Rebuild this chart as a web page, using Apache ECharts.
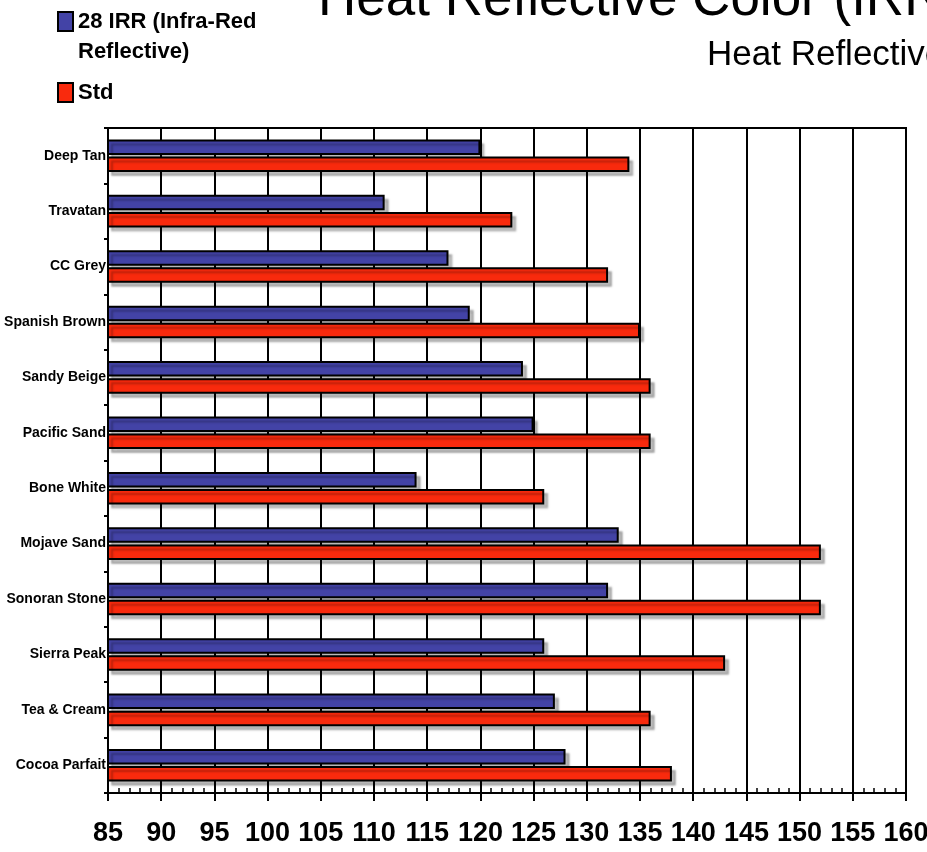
<!DOCTYPE html>
<html><head><meta charset="utf-8">
<script src="https://cdn.jsdelivr.net/npm/echarts@6/dist/echarts.min.js"></script>
<style>html,body{margin:0;padding:0;background:#fff}#c{width:927px;height:852px}</style>
</head><body><div id="c"></div>
<script>
const categories = ['Deep Tan','Travatan','CC Grey','Spanish Brown','Sandy Beige','Pacific Sand','Bone White','Mojave Sand','Sonoran Stone','Sierra Peak','Tea & Cream','Cocoa Parfait'];
const irrValues = [120,111,117,119,124,125,114,133,132,126,127,128];
const stdValues = [134,123,132,135,136,136,126,152,152,143,136,138];
const seriesNames = ['28 IRR (Infra-Red\nReflective)', 'Std'];
const xMin = 85, xMax = 160, xStep = 5;
const titleText = 'Heat Reflective Color (IRR)';
const subtitleText = 'Heat Reflective';

const SANS = '"Liberation Sans", Arial, Helvetica, sans-serif';
const chart = echarts.init(document.getElementById('c'));
const barStyle = (color) => ({
  color: color, borderColor: '#000', borderWidth: 2,
  shadowColor: 'rgba(0,0,0,0.25)', shadowOffsetX: 4, shadowOffsetY: 4, shadowBlur: 2
});
const gridBox = {left: 108, right: 21, top: 128, bottom: 59, containLabel: false, outerBoundsMode: 'none'};
chart.setOption({
  animation: false,
  backgroundColor: '#fff',
  graphic: [
    {type: 'text', x: 318, y: 0.5, style: {text: titleText, font: '53px ' + SANS, fill: '#000', verticalAlign: 'middle', align: 'left'}},
    {type: 'text', x: 707, y: 55, style: {text: subtitleText, font: '35px ' + SANS, fill: '#000', verticalAlign: 'middle', align: 'left'}}
  ],
  legend: {
    orient: 'vertical', left: 57, top: -23.5, padding: 0,
    itemWidth: 15, itemHeight: 19, itemGap: 11, icon: 'rect',
    formatter: (name) => name === seriesNames[0] ? '\n' + name : name,
    textStyle: {fontFamily: SANS, fontWeight: 'bold', fontSize: 22, lineHeight: 30, color: '#000'},
    itemStyle: {borderColor: '#000', borderWidth: 2, shadowBlur: 0, shadowOffsetX: 0, shadowOffsetY: 0, shadowColor: 'transparent'},
    data: seriesNames
  },
  grid: [
    Object.assign({show: true, borderColor: '#000', borderWidth: 2, backgroundColor: 'transparent'}, gridBox),
    Object.assign({show: false}, gridBox)
  ],
  xAxis: [
    {type: 'value', gridIndex: 0, min: xMin, max: xMax, interval: xStep, position: 'bottom',
     axisLine: {show: true, lineStyle: {color: '#000', width: 2}},
     axisTick: {show: true, inside: false, length: 8, lineStyle: {color: '#000', width: 2}},
     axisLabel: {color: '#000', fontFamily: SANS, fontWeight: 'bold', fontSize: 27, margin: 27, showMinLabel: true, showMaxLabel: true, hideOverlap: false},
     splitLine: {show: true, lineStyle: {color: '#000', width: 2}}},
    {type: 'value', gridIndex: 1, min: xMin, max: xMax, interval: xStep, position: 'bottom',
     axisLine: {show: false}, axisLabel: {show: false}, splitLine: {show: false},
     axisTick: {show: false, inside: true},
     minorTick: {show: true, splitNumber: 5, length: 5, lineStyle: {color: '#000', width: 1.5}}}
  ],
  yAxis: [
    {type: 'category', gridIndex: 0, data: categories, inverse: true,
     axisLine: {show: true, lineStyle: {color: '#000', width: 2}},
     axisTick: {show: true, length: 4, lineStyle: {color: '#000', width: 2}},
     axisLabel: {color: '#000', fontFamily: SANS, fontWeight: 'bold', fontSize: 14, margin: 2, hideOverlap: false},
     splitLine: {show: false}},
    {type: 'category', gridIndex: 1, data: categories, inverse: true, show: false}
  ],
  series: [
    {name: seriesNames[0], type: 'bar', xAxisIndex: 0, yAxisIndex: 0, data: irrValues, barWidth: 15.5, barGap: '10%', itemStyle: barStyle('#4343A6')},
    {name: seriesNames[1], type: 'bar', xAxisIndex: 0, yAxisIndex: 0, data: stdValues, barWidth: 15.5, barGap: '10%', itemStyle: barStyle('#F92A0D')}
  ]
});
</script></body></html>
